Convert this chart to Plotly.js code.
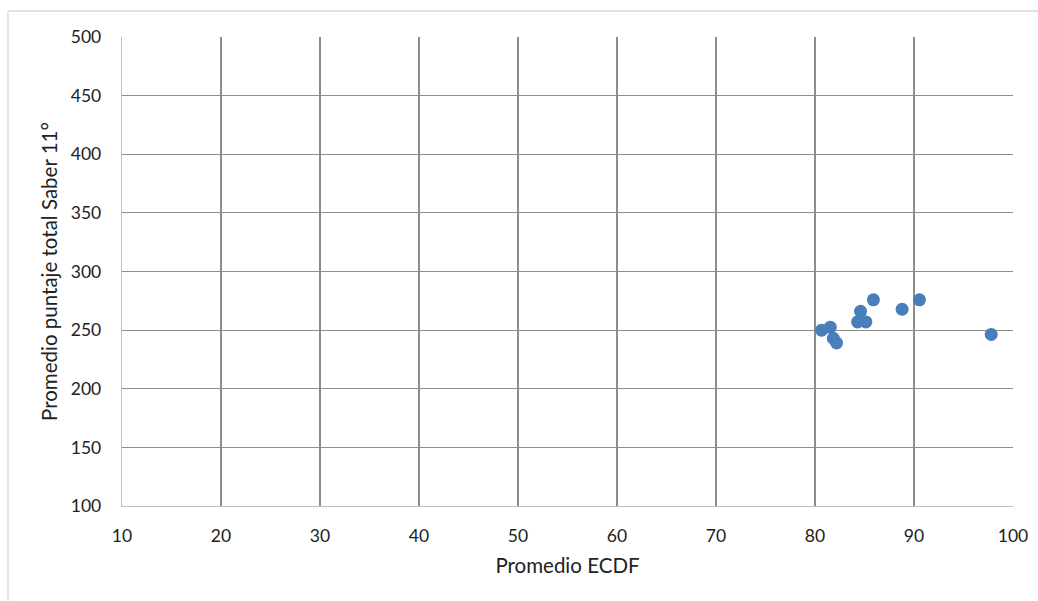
<!DOCTYPE html>
<html>
<head>
<meta charset="utf-8">
<script src="https://cdn.plot.ly/plotly-3.0.1.min.js"></script>
<style>html,body{margin:0;padding:0;background:#fff;}#chart{width:1038px;height:601px;}</style>
</head>
<body>
<div id="chart"></div>
<script>
const promedioECDF = [80.67, 81.54, 81.85, 82.18, 84.3, 85.14, 84.6, 85.9, 88.8, 90.55, 97.8];
const promedioSaber = [250, 252.5, 243, 239, 257, 257, 266, 275.8, 267.8, 275.8, 246.3];
const xTicks = [10, 20, 30, 40, 50, 60, 70, 80, 90, 100];
const yTicks = [100, 150, 200, 250, 300, 350, 400, 450, 500];
const xTitle = "Promedio ECDF";
const yTitle = "Promedio puntaje total Saber 11°";

const font = {family: "Lato, 'Open Sans', sans-serif", size: 17.5, color: "#222"};
const titleFont = {family: "Lato, 'Open Sans', sans-serif", size: 20.5, color: "#222"};

Plotly.newPlot("chart", [{
  type: "scatter",
  mode: "markers",
  x: promedioECDF,
  y: promedioSaber,
  marker: {color: "#4a7ebb", size: 13},
  hoverinfo: "x+y"
}], {
  width: 1038, height: 601,
  margin: {l: 122, r: 25, t: 37, b: 95},
  paper_bgcolor: "#fff", plot_bgcolor: "#fff",
  font: font,
  showlegend: false,
  xaxis: {
    range: [10, 100], tickvals: xTicks, ticktext: xTicks.map(String),
    showgrid: true, gridcolor: "#8c8c8c", gridwidth: 1.2,
    showline: true, linecolor: "#bfbfbf", linewidth: 1.3,
    zeroline: false, ticks: "", ticklabelstandoff: 14,
    title: {text: xTitle, font: titleFont, standoff: 13}
  },
  yaxis: {
    range: [100, 500], tickvals: yTicks, ticktext: yTicks.map(String),
    showgrid: true, gridcolor: "#8c8c8c", gridwidth: 1.2,
    showline: true, linecolor: "#bfbfbf", linewidth: 1.3,
    zeroline: false, ticks: "", ticklabelstandoff: 16,
    title: {text: yTitle, font: titleFont, standoff: 7}
  },
  shapes: [
    {type: "line", xref: "paper", yref: "paper", x0: -0.128, x1: 1.1, y0: 1.0554, y1: 1.0554, line: {color: "#d9d9d9", width: 1.3}},
    {type: "line", xref: "paper", yref: "paper", x0: -0.128, x1: -0.128, y0: -0.3, y1: 1.0554, line: {color: "#d9d9d9", width: 1.3}}
  ]
}, {displayModeBar: false, staticPlot: true});
</script>
</body>
</html>
